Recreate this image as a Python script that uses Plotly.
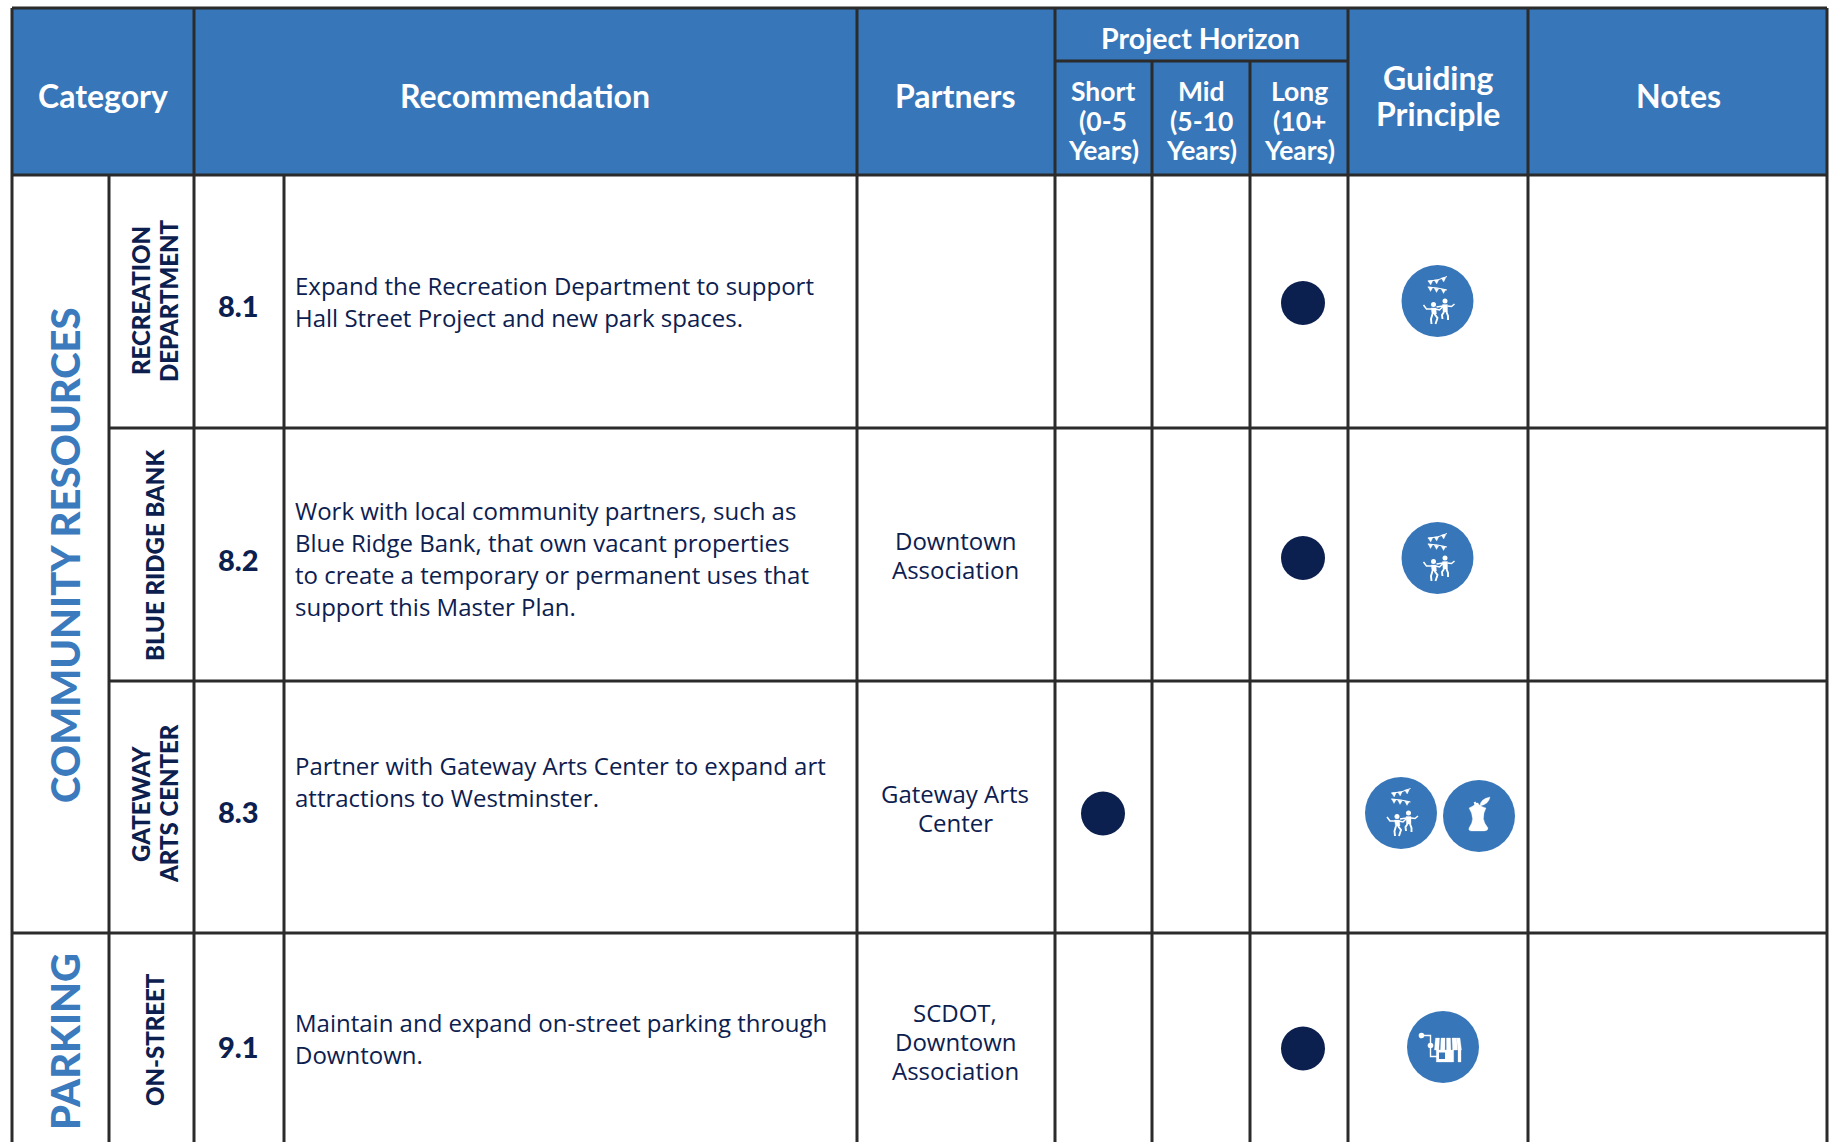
import math
import plotly.graph_objects as go

# ---------- table content ----------
categories = ["COMMUNITY RESOURCES", "PARKING"]
subcategories = [["RECREATION", "DEPARTMENT"], ["BLUE RIDGE BANK"], ["GATEWAY", "ARTS CENTER"], ["ON-STREET"]]
rec_ids = ["8.1", "8.2", "8.3", "9.1"]
recommendations = [
    ["Expand the Recreation Department to support", "Hall Street Project and new park spaces."],
    ["Work with local community partners, such as", "Blue Ridge Bank, that own vacant properties",
     "to create a temporary or permanent uses that", "support this Master Plan."],
    ["Partner with Gateway Arts Center to expand art", "attractions to Westminster."],
    ["Maintain and expand on-street parking through", "Downtown."],
]
partners = [[], ["Downtown", "Association"], ["Gateway Arts", "Center"], ["SCDOT,", "Downtown", "Association"]]
horizons = ["Long", "Long", "Short", "Long"]
principles = [["community"], ["community"], ["community", "health"], ["commerce"]]
horizon_headers = {"Short": ["Short", "(0-5", "Years)"], "Mid": ["Mid", "(5-10", "Years)"], "Long": ["Long", "(10+", "Years)"]}

# ---------- geometry (pixels of the page) ----------
W, H = 1833, 1142
XE = [12, 109, 194, 284, 857, 1055, 1152, 1250, 1348, 1528, 1827]
YE = [8, 61, 175, 428, 681, 933, 1142]
HZ_X = {"Short": 1103, "Mid": 1201, "Long": 1299}
ROW_DOT = [(1303, 303), (1303, 558), (1103, 813.5), (1303, 1048.5)]
ROW_ICON = [[1437.5, 301], [1437.5, 558], [1401, 813, 1479, 816], [1443, 1047]]
REC_Y = [[285.5, 317.5], [510, 542, 574, 606], [765, 797], [1022, 1054]]
PART_Y = [[], [540, 569], [793, 822], [1012, 1041, 1070]]
NUM_Y = [305, 559, 811, 1046]
SUB_POS = [([140, 168], 301), ([154], 556), ([140, 168], 804), ([154], 1040)]
CAT_POS = [(65, 555), (65, 1042)]

HEAD = "#3776b8"
NAVY = "#0c2050"
RULE = "#2b2b2b"
CAT_BLUE = "#3a7abd"
HFONT = "Lato"
BFONT = "Open Sans"

shapes, ann = [], []


def rect(x0, y0, x1, y1, fill):
    shapes.append(dict(type="rect", x0=x0, y0=y0, x1=x1, y1=y1, fillcolor=fill, line_width=0, layer="below"))


def rule(x0, y0, x1, y1):
    shapes.append(dict(type="line", x0=x0, y0=y0, x1=x1, y1=y1, line=dict(color=RULE, width=3), layer="below"))


def text(x, y, s, size, color, family=BFONT, weight=400, angle=0, anchor="center"):
    ann.append(dict(x=x, y=y, text=s, showarrow=False, xanchor=anchor, yanchor="middle", textangle=angle,
                    font=dict(family=family, size=size, color=color, weight=weight)))


# header band
rect(XE[0], YE[0], XE[-1], YE[2], HEAD)

# horizontal rules
rule(XE[0], YE[0], XE[-1], YE[0])
rule(XE[5], YE[1], XE[8], YE[1])
rule(XE[0], YE[2], XE[-1], YE[2])
rule(XE[1], YE[3], XE[-1], YE[3])
rule(XE[1], YE[4], XE[-1], YE[4])
rule(XE[0], YE[5], XE[-1], YE[5])

# vertical rules
for i, x in enumerate(XE):
    if i in (1, 3):            # only below the header
        rule(x, YE[2], x, H)
    elif i in (6, 7):          # below the Project Horizon band
        rule(x, YE[1], x, H)
    else:
        rule(x, YE[0], x, H)

# header text
for x, y, s in [(103, 95, "Category"), (525, 95, "Recommendation"), (955, 95, "Partners"), (1678, 95, "Notes"),
                (1438, 77, "Guiding"), (1438, 113, "Principle")]:
    text(x, y, s, 32, "white", HFONT, 700)
text(1200, 38, "Project Horizon", 28.5, "white", HFONT, 700)
for key, lines in horizon_headers.items():
    for y, s in zip([91, 121, 150], lines):
        text(HZ_X[key], y, s, 26.5, "white", HFONT, 700)

# category and subcategory columns
for (x, y), s in zip(CAT_POS, categories):
    text(x, y, s, 40, CAT_BLUE, HFONT, 900, angle=-90)
for (xs, y), lines in zip(SUB_POS, subcategories):
    for x, s in zip(xs, lines):
        text(x, y, s, 24, NAVY, HFONT, 900, angle=-90)

# body text
for y, s in zip(NUM_Y, rec_ids):
    text(238.5, y, s, 29, NAVY, HFONT, 900)
for ys, lines in zip(REC_Y, recommendations):
    for y, s in zip(ys, lines):
        text(292.5, y, s, 24, NAVY, BFONT, anchor="left")
for ys, lines in zip(PART_Y, partners):
    for y, s in zip(ys, lines):
        text(955, y, s, 24, NAVY, BFONT)


# ---------- icon glyphs (white, drawn on the blue discs) ----------
def poly(cx, cy, pts, close=True):
    d = "M" + " L".join(f"{cx + a:.2f},{cy + b:.2f}" for a, b in pts)
    return d + (" Z" if close else "")


def fill(d):
    shapes.append(dict(type="path", path=d, fillcolor="white", line=dict(color="white", width=0.3)))


def stroke(d, w):
    shapes.append(dict(type="path", path=d, line=dict(color="white", width=w)))


def dot(cx, cy, a, b, r):
    shapes.append(dict(type="circle", x0=cx + a - r, x1=cx + a + r, y0=cy + b - r, y1=cy + b + r,
                       fillcolor="white", line_width=0))


def community(cx, cy):
    # bunting
    stroke(poly(cx, cy, [(-9.7, -20), (0, -21), (9.5, -24.5)], False), 1)
    stroke(poly(cx, cy, [(-9.7, -14), (0, -13), (9.5, -11)], False), 1)
    for a, b in [(-7, -20), (-1, -21), (6, -23)]:
        fill(poly(cx, cy, [(a - 2.4, b), (a + 2.4, b - .5), (a + .2, b + 4)]))
    for a, b in [(-7, -14), (-1, -13), (6, -12)]:
        fill(poly(cx, cy, [(a - 2.4, b), (a + 2.4, b + .5), (a, b + 4.5)]))
    # left dancer
    dot(cx, cy, -4, 3.5, 2.5)
    fill(poly(cx, cy, [(-6.5, 7), (-1.5, 7), (-1, 13), (-5.5, 13)]))
    stroke(poly(cx, cy, [(-3, 13), (0, 17), (-2, 23)], False), 1.9)
    stroke(poly(cx, cy, [(-5, 13), (-6.5, 18), (-6, 23)], False), 1.9)
    stroke(poly(cx, cy, [(-6, 8), (-11, 8), (-14, 4)], False), 1.5)
    stroke(poly(cx, cy, [(-2, 8), (2, 9), (6, 5)], False), 1.5)
    # right dancer
    dot(cx, cy, 7.5, 0, 2.5)
    fill(poly(cx, cy, [(5, 3.5), (10, 3.5), (10, 11), (5.5, 11)]))
    stroke(poly(cx, cy, [(9, 11), (10.5, 15), (10.5, 19)], False), 1.9)
    stroke(poly(cx, cy, [(6.5, 11), (4.5, 14), (5, 18)], False), 1.9)
    stroke(poly(cx, cy, [(5.5, 5), (-1, 6)], False), 1.5)
    stroke(poly(cx, cy, [(10, 5), (14, 5.5), (17, 3)], False), 1.5)


def health(cx, cy):
    fill(f"M{cx - 10},{cy - 8} Q{cx - 3},{cy - 11} {cx - 4},{cy - 13} L{cx - 1},{cy - 13} "
         f"Q{cx},{cy - 10} {cx + 7},{cy - 8} Q{cx + 1},{cy + 3} {cx + 9},{cy + 12} "
         f"Q{cx + 9},{cy + 15} {cx + 5},{cy + 15} L{cx - 7},{cy + 15} Q{cx - 11},{cy + 15} {cx - 10},{cy + 12} "
         f"Q{cx - 3},{cy + 3} {cx - 10},{cy - 8} Z")
    stroke(poly(cx, cy, [(-4.5, -14), (-2, -9)], False), 2)
    fill(f"M{cx + 1},{cy - 10} Q{cx + 1},{cy - 17} {cx + 11},{cy - 19} Q{cx + 10},{cy - 12} {cx + 1},{cy - 10} Z")


def commerce(cx, cy):
    dot(cx, cy, -21.5, -11.5, 2.8)
    dot(cx, cy, -12.5, -1.5, 2.8)
    stroke(poly(cx, cy, [(-21.5, -11.5), (-12.5, -11.5), (-12.5, 9.5), (-6, 9.5)], False), 1.4)
    # awning stripes
    for a0, a1 in [(-7.5, -3.5), (-2, 2), (3.5, 7.5), (9, 13.5)]:
        fill(poly(cx, cy, [(a0, -9), (a1, -9), (a1 + (a1 - 3) * .1, 3), (a0 + (a0 - 3) * .1, 3)]))
    fill(poly(cx, cy, [(13.5, -9), (17, -9), (18.5, 3), (15, 3)]))
    # shop front
    fill(poly(cx, cy, [(-6.7, 3), (10.7, 3), (10.7, 15), (-6.7, 15)]))
    fill(poly(cx, cy, [(15, 3), (18, 3), (18, 15), (15, 15)]))
    shapes.append(dict(type="path", path=poly(cx, cy, [(-4, 5.5), (2, 5.5), (2, 12), (-4, 12)]),
                       fillcolor=HEAD, line_width=0))


GLYPH = {"community": community, "health": health, "commerce": commerce}

icon_x, icon_y = [], []
for pos, names in zip(ROW_ICON, principles):
    for k, name in enumerate(names):
        x, y = pos[2 * k], pos[2 * k + 1]
        icon_x.append(x)
        icon_y.append(y)
        GLYPH[name](x, y)

dot_x = [p[0] for p in ROW_DOT]
dot_y = [p[1] for p in ROW_DOT]

fig = go.Figure()
fig.add_trace(go.Scatter(x=icon_x, y=icon_y, mode="markers", hoverinfo="skip",
                         marker=dict(size=72, color=HEAD, line_width=0)))
fig.add_trace(go.Scatter(x=dot_x, y=dot_y, mode="markers", text=horizons, hoverinfo="text",
                         marker=dict(size=44, color=NAVY, line_width=0)))

fig.update_layout(
    width=W, height=H, margin=dict(l=0, r=0, t=0, b=0),
    paper_bgcolor="white", plot_bgcolor="white", showlegend=False,
    xaxis=dict(range=[0, W], visible=False, fixedrange=True),
    yaxis=dict(range=[H, 0], visible=False, fixedrange=True),
    shapes=shapes, annotations=ann,
)
fig.write_html("out.html", post_script="document.body.style.margin='0';document.body.style.overflow='hidden';",
               config={"displayModeBar": False})
